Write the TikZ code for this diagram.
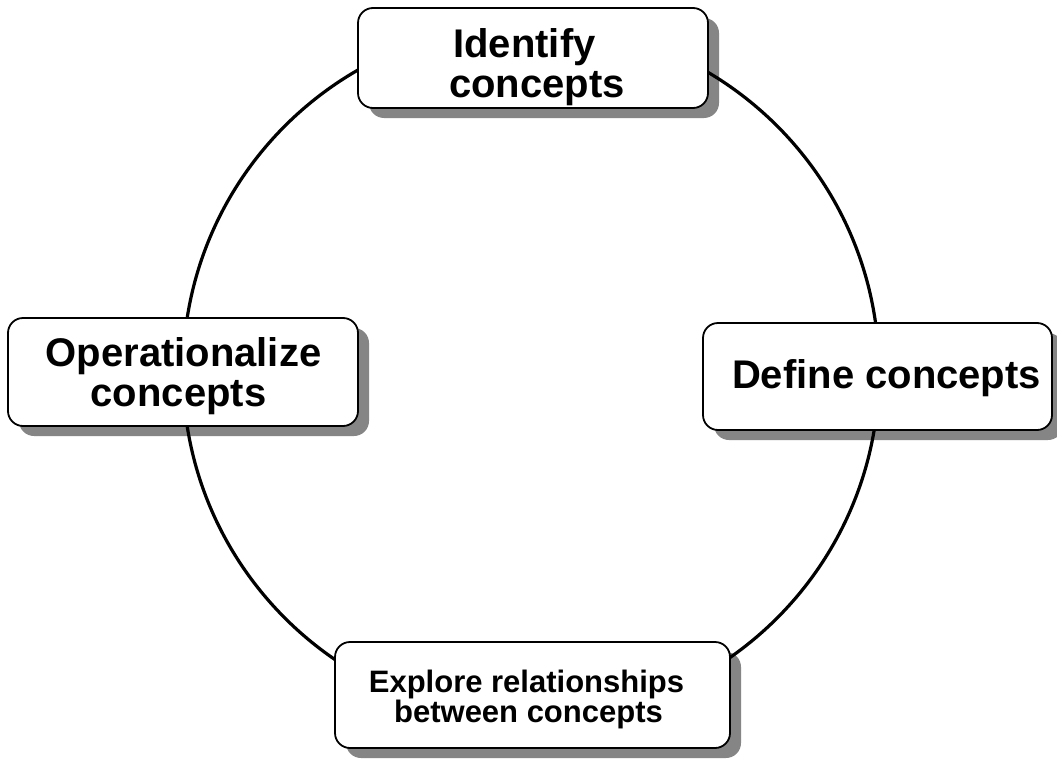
\documentclass[tikz,border=0pt]{standalone}
\usepackage{fontspec}
\setmainfont{Liberation Sans}
\pgfdeclarelayer{shadowlayer}
\pgfdeclarelayer{circlelayer}
\pgfsetlayers{shadowlayer,circlelayer,main}
\begin{document}
\begin{tikzpicture}[x=1pt,y=-1pt,
  box/.style={draw, line width=1.8pt, fill=white, rounded corners=15pt, inner sep=0pt, outer sep=0pt},
  big/.style={font=\bfseries\fontsize{40}{40}\selectfont, anchor=base, inner sep=0pt},
  small/.style={font=\bfseries\fontsize{31}{31}\selectfont, anchor=base, inner sep=0pt},
  ring/.style={line width=3.2pt},
  shade/.style={fill=black!48, rounded corners=15pt}]
\useasboundingbox (0,0) rectangle (1057,760);
% boxes
\node[box, minimum width=350pt, minimum height=100pt] (identify) at (533,58) {};
\node[box, minimum width=350pt, minimum height=108pt] (operational) at (183,372) {};
\node[box, minimum width=349pt, minimum height=107pt] (define) at (877.5,376.5) {};
\node[box, minimum width=395pt, minimum height=106pt] (explore) at (532.5,695) {};
% texts
\node[big] (t1a) at (524.5,57) {Identify};
\node[big] (t1b) at (537,97) {concepts};
\node[big] (t2a) at (183.5,366) {Operationalize};
\node[big] (t2b) at (178.5,406) {concepts};
\node[big] (t3) at (886.5,388) {Define concepts};
\node[small] (t4a) at (526.5,692) {Explore relationships};
\node[small] (t4b) at (528.5,722) {between concepts};
% circle
\begin{pgfonlayer}{circlelayer}
\coordinate (c) at (531,372);
\draw[ring] (c) circle[radius=348pt];
\end{pgfonlayer}
% background and shadows
\begin{pgfonlayer}{shadowlayer}
\fill[white] (0,0) rectangle (1057,760);
\foreach \n in {identify,operational,define,explore}{
  \fill[shade] ([shift={(11pt,-10pt)}]\n.south west) rectangle ([shift={(11pt,-10pt)}]\n.north east);
}
\end{pgfonlayer}
\end{tikzpicture}
\end{document}
